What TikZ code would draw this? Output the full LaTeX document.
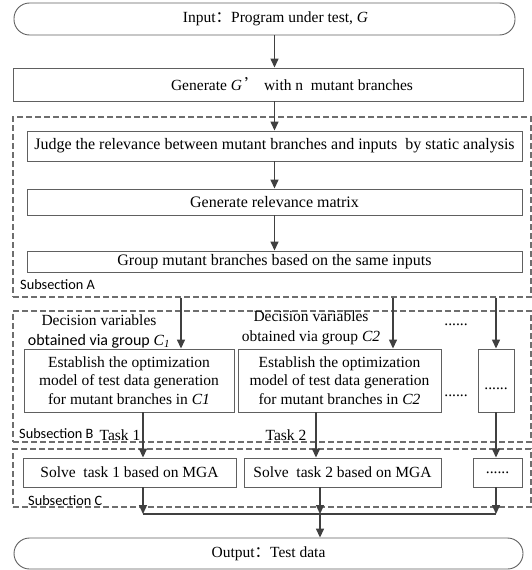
\documentclass[tikz,border=0pt]{standalone}
\usepackage{fontspec}
\setmainfont{Liberation Serif}
\newfontfamily\calibri{Carlito}
\newfontfamily\cjk{Noto Sans CJK SC}
\usetikzlibrary{arrows.meta,positioning}
\definecolor{boxgray}{RGB}{96,96,96}
\definecolor{arrgray}{RGB}{64,64,64}
\definecolor{dashgray}{RGB}{110,110,110}
\tikzset{
  blk/.style={draw=boxgray, line width=0.9pt, inner sep=0pt, align=center, font=\fontsize{15.5}{18.5}\selectfont},
  wide/.style={blk, font=\fontsize{16}{18.5}\selectfont},
  term/.style={blk, rounded corners=15.5pt},
  sect/.style={draw=dashgray, line width=1.3pt, dash pattern=on 6pt off 3pt, inner sep=0pt},
  arr/.style={draw=arrgray, line width=1.4pt, -{Triangle[width=8pt,length=9pt]}},
  ln/.style={draw=arrgray, line width=1.4pt},
  lbl/.style={inner sep=0pt, align=center, font=\fontsize{15.5}{20}\selectfont},
  sub/.style={inner sep=0pt, anchor=west, font=\calibri\fontsize{14.3}{16}\selectfont},
}
\begin{document}
\begin{tikzpicture}[x=1pt,y=-1pt]
\useasboundingbox (0,0) rectangle (532,570);
\node[sect, minimum width=518pt, minimum height=180pt] (secA) at (272,207) {};
\node[sect, minimum width=518pt, minimum height=131pt] (secB) at (272,376.5) {};
\node[sect, minimum width=518pt, minimum height=58pt] (secC) at (272,478) {};
\node[sub] (subA) at (20,285) {Subsection A};
\node[sub] (subB) at (19,434) {Subsection B};
\node[sub] (subC) at (28,501) {Subsection C};

\node[term, minimum width=501pt, minimum height=32pt] (input) at (264.5,19) {\hspace*{22pt}Input{\cjk ：}Program under test, \textit{G}};
\node[blk, minimum width=510pt, minimum height=33pt] (gen) at (268,84.5) {\hspace*{48pt}Generate \textit{G}\,{\cjk ’} with n\enspace mutant branches};
\node[wide, minimum width=495pt, minimum height=30pt] (judge) at (274.5,146) {Judge the relevance between mutant branches and inputs\ \ by static analysis};
\node[wide, minimum width=495pt, minimum height=26pt] (rel) at (274.5,202) {Generate relevance matrix};
\node[wide, minimum width=495pt, minimum height=21pt] (grp) at (274.5,261.5) {Group mutant branches based on the same inputs};

\node[lbl] (dv1) at (99,331) {Decision variables\\{\calibri\fontsize{16}{20}\selectfont obtained via group} \textit{C}\textsubscript{\textit{1}}};
\node[lbl] (dv2) at (311,327.5) {Decision variables\\obtained via group \textit{C2}};
\node[lbl] (dots2) at (456,325) {......};
\node[blk, minimum width=210pt, minimum height=63pt] (c1) at (129,380.5) {Establish the optimization\\model of test data generation\\for mutant branches in \textit{C1}};
\node[blk, minimum width=203pt, minimum height=63pt] (c2) at (339.5,380.5) {Establish the optimization\\model of test data generation\\for mutant branches in \textit{C2}};
\node[lbl] (dots1) at (456,396) {......};
\node[blk, minimum width=36pt, minimum height=63pt] (c3) at (496,380.5) {\raisebox{-18pt}{......}};

\node[blk, minimum width=213pt, minimum height=29pt] (s1) at (129.5,472.5) {Solve\ \ task 1 based on MGA};
\node[blk, minimum width=197pt, minimum height=29pt] (s2) at (342.5,472.5) {Solve\ \ task 2 based on MGA};
\node[blk, minimum width=49pt, minimum height=29pt] (s3) at (497.5,472.5) {......};
\node[term, minimum width=509pt, minimum height=31pt] (out) at (268.5,553.5) {Output{\cjk ：}Test data};

\coordinate (a1) at (181,0);
\coordinate (a2) at (393,0);
\coordinate (t1) at (143,0);
\coordinate (t2) at (316,0);
\coordinate (b2) at (320,0);
\coordinate (bl) at (0,514);
\coordinate (j) at (320,514);

\draw[arr] (input.south -| judge.north) -- (gen.north -| judge.north);
\draw[arr] (gen.south -| judge.north) -- (judge.north);
\draw[arr] (judge) -- (rel);
\draw[arr] (rel) -- (grp);
\draw[arr] (secA.south -| a1) -- (c1.north -| a1);
\draw[arr] (secA.south -| a2) -- (c2.north -| a2);
\draw[arr] (secA.south -| c3.north) -- (c3.north);
\draw[arr] (c1.south -| t1) -- node[lbl, anchor=east, xshift=-2pt] (task1) {Task 1} (s1.north -| t1);
\draw[arr] (c2.south -| t2) -- node[lbl, anchor=east, xshift=-9pt] (task2) {Task 2} (s2.north -| t2);
\draw[arr] (c3.south) -- (s3.north -| c3.south);
\draw[arr] (s1.south -| t1) -- (bl -| t1);
\draw[arr] (s2.south -| b2) -- (bl -| b2);
\draw[arr] (s3.south -| c3.south) -- (bl -| c3.south);
\draw[ln] (bl -| t1) -- (bl -| c3.south);
\draw[arr] (j) -- (out.north -| j);
\end{tikzpicture}
\end{document}
